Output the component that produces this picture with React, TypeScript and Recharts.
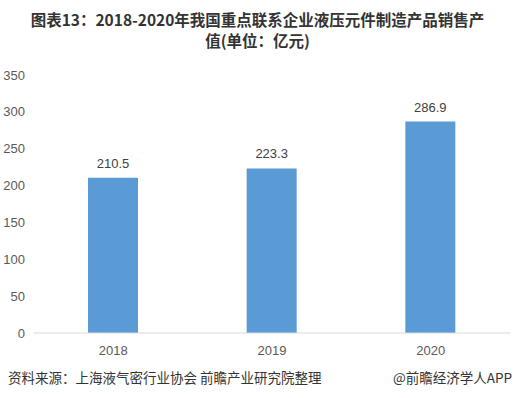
import React from "react";
import { BarChart, Bar, XAxis, YAxis, LabelList } from "recharts";

const years = ["2018", "2019", "2020"];
const salesValues = [210.5, 223.3, 286.9];
const yTicks = [0, 50, 100, 150, 200, 250, 300, 350];

const data = years.map((y, i) => ({ year: y, value: salesValues[i] }));

const font = '"Noto Sans CJK SC", "Noto Sans", sans-serif';
const numFont = '"Liberation Sans", Arial, sans-serif';

const titleStyle: React.CSSProperties = {
  position: "absolute", left: 0, width: 515, height: 21, textAlign: "center", fontWeight: 700,
  fontSize: 15.5, lineHeight: "21px", color: "#333", whiteSpace: "nowrap",
};

export default function App() {
  return (
    <div style={{ position: "absolute", left: 0, top: 0, width: 515, height: 398, background: "#fff", fontFamily: font }}>
      <div style={{ ...titleStyle, top: 9 }}>图表13：2018-2020年我国重点联系企业液压元件制造产品销售产</div>
      <div style={{ ...titleStyle, top: 30 }}>值(单位：亿元)</div>
      <BarChart width={515} height={398} data={data} margin={{ top: 75, right: 5, bottom: 35, left: 0 }}>
        <XAxis dataKey="year" height={30} tickLine={false} axisLine={{ stroke: "#D9D9D9" }} tick={{ fill: "#595959", fontSize: 13, fontFamily: numFont }} tickMargin={7} />
        <YAxis domain={[0, 350]} ticks={yTicks} width={34} axisLine={false} tickLine={false} tickSize={0} tickMargin={9} tick={{ fill: "#595959", fontSize: 13, fontFamily: numFont }} />
        <Bar dataKey="value" fill="#5B9BD5" barSize={50} isAnimationActive={false}>
          <LabelList dataKey="value" position="top" offset={10} fill="#404040" fontSize={13} fontFamily={numFont} />
        </Bar>
      </BarChart>
      <div style={{ position: "absolute", left: 8, top: 367, fontSize: 13.5, color: "#333" }}>资料来源：上海液气密行业协会 前瞻产业研究院整理</div>
      <div style={{ position: "absolute", right: 3, top: 367, fontSize: 13.5, color: "#333" }}>@前瞻经济学人APP</div>
    </div>
  );
}
